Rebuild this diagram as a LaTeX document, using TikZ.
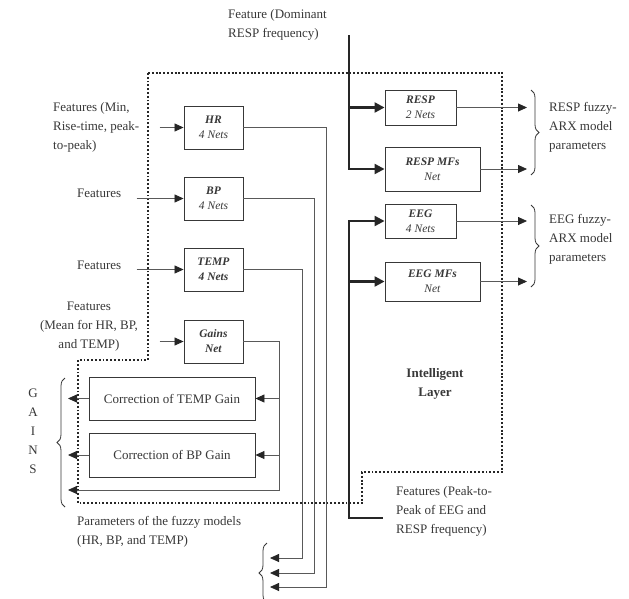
\documentclass[tikz,border=0pt]{standalone}
\usepackage{fontspec}
\setmainfont{Liberation Serif}
\usepackage{xcolor}
\usepackage{tikz}
\usetikzlibrary{arrows.meta,positioning,decorations.pathreplacing,calc}
\definecolor{inkgray}{gray}{0.22}
\definecolor{wiregray}{gray}{0.35}
\newcommand{\labfont}{\fontsize{13}{19}\selectfont}
\newcommand{\boxfont}{\fontsize{11.5}{15}\selectfont}
\newcommand{\bi}[1]{\textbf{\textit{#1}}}

\begin{document}
\begin{tikzpicture}[
  x=1pt, y=-1pt,
  every node/.style={font=\labfont, text=inkgray},
  netbox/.style={draw=inkgray, line width=0.9pt, inner sep=0pt, align=center, font=\boxfont},
  wire/.style={draw=wiregray, line width=0.8pt, >={Triangle[length=9pt,width=8pt,color=black!85]}},
  trunk/.style={draw=black!85, line width=2.2pt, >={Triangle[length=10pt,width=10pt]}},
  lbl/.style={inner sep=0pt, align=left},
  brc/.style={draw=inkgray, line width=0.8pt, decorate, decoration={brace, amplitude=8pt}}
]
\fill[white] (0,0) rectangle (629,598);
\useasboundingbox (0,0) rectangle (629,598);

% ── Net boxes, left column ─────────────────────────────────────────────────
\node[netbox, minimum width=59pt, minimum height=43pt] (hr)    at (213.5,127.5) {\bi{HR}\\\textit{4 Nets}};
\node[netbox, minimum width=59pt, minimum height=43pt] (bp)    at (213.5,198.5) {\bi{BP}\\\textit{4 Nets}};
\node[netbox, minimum width=59pt, minimum height=43pt] (temp)  at (213.5,269.5) {\bi{TEMP}\\\bi{4 Nets}};
\node[netbox, minimum width=59pt, minimum height=43pt] (gains) at (213.5,341.5) {\bi{Gains}\\\bi{Net}};

% ── Gain corrections ──────────────────────────────────────────────────────
\node[netbox, minimum width=166pt, minimum height=43pt, font=\labfont] (corrT) at (172,398.5) {Correction of TEMP Gain};
\node[netbox, minimum width=166pt, minimum height=44pt, font=\labfont] (corrB) at (172,455) {Correction of BP Gain};

% ── Net boxes, right column ───────────────────────────────────────────────
\node[netbox, minimum width=71pt, minimum height=35pt] (resp)   at (420.5,107.5) {\bi{RESP}\\\textit{2 Nets}};
\node[netbox, minimum width=95pt, minimum height=44pt] (respmf) at (432.5,169)   {\bi{RESP MFs}\\\textit{Net}};
\node[netbox, minimum width=71pt, minimum height=34pt] (eeg)    at (420.5,221)   {\bi{EEG}\\\textit{4 Nets}};
\node[netbox, minimum width=95pt, minimum height=39pt] (eegmf)  at (432.5,281.5) {\bi{EEG MFs}\\\textit{Net}};

% ── Intelligent layer boundary ────────────────────────────────────────────
\draw[black!85, line width=1.9pt, dash pattern=on 1.9pt off 1.9pt]
  (148,73) -- (502,73) -- (502,472) -- (362,472) -- (362,503)
  -- (78,503) -- (78,360) -- (148,360) -- cycle;
\node[font=\labfont\bfseries, align=center] (layer) at (435,384) {Intelligent\\Layer};

% ── Inputs ────────────────────────────────────────────────────────────────
\node[lbl, anchor=west] (fhr)    at (53,127)  {Features (Min,\\Rise-time, peak-\\to-peak)};
\node[lbl, anchor=west] (fbp)    at (77,193)  {Features};
\node[lbl, anchor=west] (ftemp)  at (77,265)  {Features};
\node[lbl, align=center] (fgains) at (89,327) {Features\\(Mean for HR, BP,\\and TEMP)};
\draw[wire,->] ([xshift=-24pt]hr.west)    -- (hr.west);
\draw[wire,->] ([xshift=-47pt]bp.west)    -- (bp.west);
\draw[wire,->] ([xshift=-47pt]temp.west)  -- (temp.west);
\draw[wire,->] ([xshift=-24pt]gains.west) -- (gains.west);

\node[lbl, anchor=north west] (fresp) at (228,9) {Feature (Dominant\\RESP frequency)};
\coordinate (respfeed) at (349,35);
\draw[trunk,->] (respfeed) |- (respmf.west);
\draw[trunk,->] (respfeed |- resp.west) -- (resp.west);

\node[lbl, anchor=west] (feeg) at (396,511) {Features (Peak-to-\\Peak of EEG and\\RESP frequency)};
\coordinate (eegfeed) at (383,518);
\coordinate (eegbend) at (349,518);
\draw[trunk,<-] (eeg.west) -| (eegbend) -- (eegfeed);
\draw[trunk,->] (eegbend |- eegmf.west) -- (eegmf.west);

% ── Fuzzy-ARX outputs ─────────────────────────────────────────────────────
\coordinate (outR) at (527,0);
\foreach \b in {resp,respmf,eeg,eegmf}
  \draw[wire,->] (\b.east) -- (\b.east -| outR);
\draw[brc] (531,90) -- (531,175);
\draw[brc] (531,205) -- (531,287);
\node[lbl, anchor=west] (presp) at (549,127) {RESP fuzzy-\\ARX model\\parameters};
\node[lbl, anchor=west] (peeg)  at (549,239) {EEG fuzzy-\\ARX model\\parameters};

% ── Gains ─────────────────────────────────────────────────────────────────
\coordinate (gbus) at (279,490);
\coordinate (gout) at (68,0);
\draw[wire,->] (gains.east) -| (gbus) -- (gbus -| gout);
\draw[wire,->] (gbus |- corrT.east) -- (corrT.east);
\draw[wire,->] (gbus |- corrB.east) -- (corrB.east);
\draw[wire,->] (corrT.west) -- (corrT.west -| gout);
\draw[wire,->] (corrB.west) -- (corrB.west -| gout);
\draw[brc] (65,507) -- (65,378);
\node[align=center] (gainslbl) at (33,431) {G\\A\\I\\N\\S};

% ── Fuzzy model parameters ────────────────────────────────────────────────
\coordinate (pout) at (270,0);
\coordinate (hrbus)   at (326,587);
\coordinate (bpbus)   at (314,573);
\coordinate (tempbus) at (302,558);
\draw[wire,->] (hr.east)   -| (hrbus)   -- (hrbus -| pout);
\draw[wire,->] (bp.east)   -| (bpbus)   -- (bpbus -| pout);
\draw[wire,->] (temp.east) -| (tempbus) -- (tempbus -| pout);
\draw[brc] (267,603) -- (267,543);
\node[lbl, anchor=west] (pmod) at (77,532) {Parameters of the fuzzy models\\(HR, BP, and TEMP)};

\end{tikzpicture}
\end{document}
